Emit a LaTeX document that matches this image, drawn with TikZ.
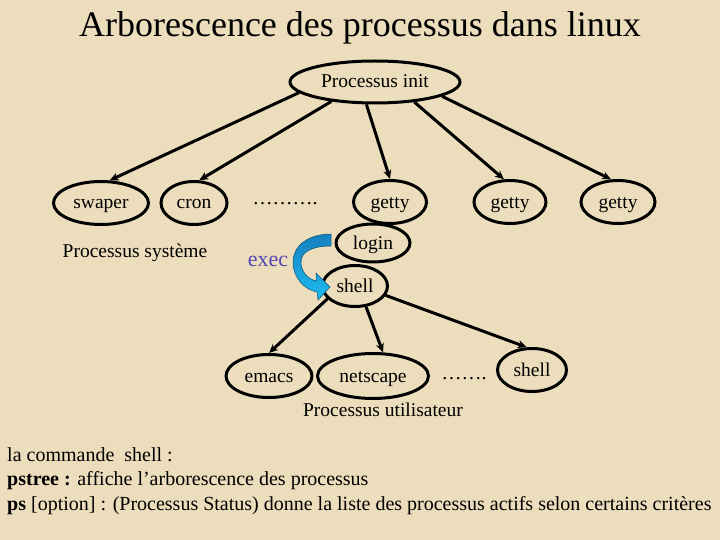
\documentclass[tikz,border=0pt]{standalone}
\usepackage{fontspec}
\setmainfont{Liberation Serif}
\usepackage{tikz}
\usepackage{xcolor}
\usetikzlibrary{calc}
\usetikzlibrary{arrows.meta}
\usetikzlibrary{shapes.geometric}

\definecolor{parchemin}{RGB}{236,222,188}
\definecolor{execbleu}{RGB}{84,70,180}
\definecolor{flechehaut}{RGB}{22,128,190}
\definecolor{flechebas}{RGB}{30,188,242}

\begin{document}
\begin{tikzpicture}[x=1pt,y=-1pt]

\tikzset{
    bulle/.style = {
    ellipse,
    draw,
    line width=3pt,
    inner sep=0pt,
    text height=13pt,
    text depth=1pt,
    font=\fontsize{19.5}{22}\selectfont
    }
}

\tikzstyle{fils}=[line width=3pt, -{Stealth[length=9pt,width=8pt]}]
\tikzstyle{texte}=[inner sep=0pt, anchor=base, font=\fontsize{19.5}{22}\selectfont]
\tikzstyle{commande}=[inner sep=0pt, anchor=base west, font=\fontsize{20}{24}\selectfont]

\fill[parchemin] (0,0) rectangle (720,540);
\useasboundingbox (0,0) rectangle (720,540);

\node (titre) [texte, font=\fontsize{36}{40}\selectfont] at (360,37) {Arborescence des processus dans linux};

\node (init) [bulle, minimum width=170pt, minimum height=42pt] at (375,82) {Processus init};

\node (swaper) [bulle, minimum width=95pt, minimum height=43pt] at (101,203) {swaper};
\node (cron) [bulle, minimum width=66pt, minimum height=43pt] at (194,203) {cron};
\node (points-1) [texte, font=\fontsize{20}{22}\selectfont] at (285,205) {……….};
\node (getty-1) [bulle, minimum width=73pt, minimum height=43pt] at (390,202) {getty};
\node (getty-2) [bulle, minimum width=72pt, minimum height=43pt] at (510,202) {getty};
\node (getty-3) [bulle, minimum width=74pt, minimum height=43pt] at (618,202) {getty};

\node (systeme) [texte] at (135,257) {Processus système};

\node (login) [bulle, minimum width=74pt, minimum height=38pt] at (373,243) {login};
\node (shell-1) [bulle, minimum width=65pt, minimum height=41pt] at (355,286) {shell};

\node (emacs) [bulle, minimum width=86pt, minimum height=43pt] at (269,376) {emacs};
\node (netscape) [bulle, minimum width=111pt, minimum height=45pt] at (373,376) {netscape};
\node (points-2) [texte, font=\fontsize{20}{22}\selectfont] at (464,379) {…….};
\node (shell-2) [bulle, minimum width=69pt, minimum height=43pt] at (532,370) {shell};

\node (utilisateur) [texte] at (383,416) {Processus utilisateur};

\draw [fils] (init.188) -- (swaper.69);
\draw [fils] (init.204) -- (cron.77);
\draw [fils] (init.249) -- (getty-1.north);
\draw [fils] (init.333) -- (getty-2.105);
\draw [fils] (init.348) -- (getty-3.107);

\draw [fils] (shell-1.205) -- (emacs.north);
\draw [fils] (shell-1.298) -- (netscape.67);
\draw [fils] (shell-1.343) -- (shell-2.103);

% exec
\shadedraw [top color=flechehaut, bottom color=flechebas, draw=flechehaut!60!black, line width=0.5pt]
    (331,234) .. controls (308,234) and (293,246) .. (293,262)
    .. controls (293,278) and (305,290) .. (317,292)
    -- (318,300) -- (330,287) -- (316,273) -- (316,281)
    .. controls (308,279) and (301,272) .. (301,262)
    .. controls (301,252) and (312,246) .. (331,246) -- cycle;
\node (exec) [texte, font=\fontsize{22}{24}\selectfont, text=execbleu] at (268,266) {exec};

\node (cmd-1) [commande] at (7,461) {la commande\ \ shell :};
\node (cmd-2) [commande] at (7,485) {\textbf{pstree :} affiche l’arborescence des processus};
\node (cmd-3) [commande] at (7,510) {\textbf{ps} [option] : (Processus Status) donne la liste des processus actifs selon certains critères};

\end{tikzpicture}
\end{document}
